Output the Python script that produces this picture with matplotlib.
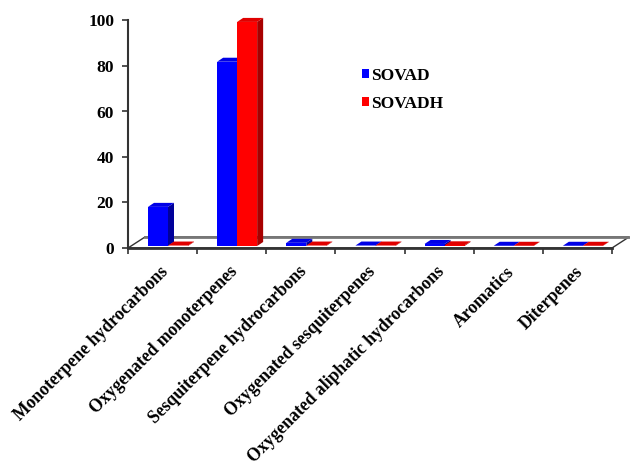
import matplotlib.pyplot as plt
from matplotlib.patches import Polygon, Patch

categories = ["Monoterpene hydrocarbons", "Oxygenated monoterpenes",
              "Sesquiterpene hydrocarbons", "Oxygenated sesquiterpenes",
              "Oxygenated aliphatic hydrocarbons", "Aromatics", "Diterpenes"]
sovad = [17.2, 81.0, 1.4, 0.2, 0.9, 0.1, 0.1]
sovadh = [0.2, 98.5, 0.2, 0.2, 0.3, 0.1, 0.1]
series_names = ["SOVAD", "SOVADH"]

plt.rcParams["font.family"] = ["Liberation Serif", "DejaVu Serif"]
plt.rcParams["font.weight"] = "bold"

W, H = 630, 465
fig = plt.figure(figsize=(6.3, 4.65), dpi=100)
# axes box in pixels: x 128..612, y(0)=248, y(100)=20.5
ax = fig.add_axes([128 / W, (H - 248) / H, (612 - 128) / W, (248 - 20.5) / H])
ax.set_xlim(0, len(categories))
ax.set_ylim(0, 100)

px_x = (612 - 128) / len(categories)   # pixels per category
px_y = (248 - 20.5) / 100              # pixels per unit

# 3D look: depth offsets converted to data units
floor_dx, floor_dy = 17 / px_x, 11 / px_y
bar_dx, bar_dy = 6 / px_x, 4 / px_y
base = 2 / px_y
width = 20 / px_x
start = 20 / px_x

# floor
floor = Polygon([(0, 0), (len(categories), 0),
                 (len(categories) + floor_dx, floor_dy), (floor_dx, floor_dy)],
                closed=True, facecolor="white", edgecolor="#333333", lw=1.0,
                clip_on=False, zorder=1)
ax.add_patch(floor)
ax.plot([floor_dx, len(categories) + floor_dx], [floor_dy, floor_dy],
        color="#777777", lw=2, clip_on=False, zorder=1.5)

colors = [("#0000FF", "#0000E6", "#00009A"), ("#FF0000", "#E00000", "#A80000")]
z = 2
for i in range(len(categories)):
    for k, vals in enumerate([sovad, sovadh]):
        front, topc, side = colors[k]
        x0 = i + start + k * width
        x1 = x0 + width
        top = base + vals[i]
        ax.bar(x0, vals[i], width=width, bottom=base, align="edge",
               color=front, edgecolor="none", zorder=z, clip_on=False)
        ax.add_patch(Polygon([(x1, base), (x1 + bar_dx, base + bar_dy),
                              (x1 + bar_dx, top + bar_dy), (x1, top)],
                             closed=True, facecolor=side, edgecolor="none",
                             zorder=z, clip_on=False))
        ax.add_patch(Polygon([(x0, top), (x0 + bar_dx, top + bar_dy),
                              (x1 + bar_dx, top + bar_dy), (x1, top)],
                             closed=True, facecolor=topc, edgecolor="none",
                             zorder=z, clip_on=False))
        z += 0.01

for s in ["top", "right"]:
    ax.spines[s].set_visible(False)
ax.spines["left"].set_color("#333333")
ax.spines["bottom"].set_color("#333333")
ax.spines["left"].set_linewidth(1.5)
ax.spines["bottom"].set_linewidth(2)
ax.spines["bottom"].set_zorder(10)

ax.set_yticks(range(0, 101, 20))
ax.tick_params(axis="y", length=4, width=1.2, color="#333333", labelsize=12.5, pad=6)
# labels sit a little left of the category centre, like the original
ax.set_xticks([i + 0.5 - 3 / px_x for i in range(len(categories))])
ax.set_xticklabels(categories, rotation=45, ha="right", rotation_mode="anchor",
                   fontsize=12.7)
ax.tick_params(axis="x", length=0, pad=11)
ax.set_xticks(range(len(categories) + 1), minor=True)
ax.tick_params(axis="x", which="minor", length=4, width=1.2, color="#333333")

handles = [Patch(facecolor=colors[0][0]), Patch(facecolor=colors[1][0])]
fig.legend(handles, series_names, loc="upper left",
           bbox_to_anchor=(346 / W, 1 - 52 / H), frameon=False,
           handlelength=0.45, handleheight=0.45, handletextpad=0.1,
           labelspacing=0.7, prop={"size": 12.5, "weight": "bold"})

fig.savefig("out.png", dpi=100)
